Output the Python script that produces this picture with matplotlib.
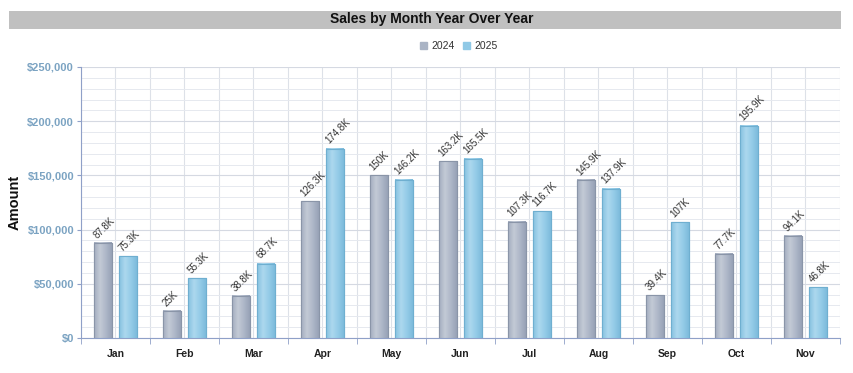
import matplotlib
matplotlib.use("Agg")
import matplotlib.pyplot as plt
import numpy as np
from matplotlib.patches import Rectangle
from matplotlib.colors import LinearSegmentedColormap
from matplotlib.ticker import MultipleLocator, FuncFormatter

months = ["Jan", "Feb", "Mar", "Apr", "May", "Jun", "Jul", "Aug", "Sep", "Oct", "Nov"]
sales_2024 = [87800, 25000, 38800, 126300, 150000, 163200, 107300, 145900, 39400, 77700, 94100]
sales_2025 = [75300, 55300, 68700, 174800, 146200, 165500, 116700, 137900, 107000, 195900, 46800]
labels_2024 = ["87.8K", "25K", "38.8K", "126.3K", "150K", "163.2K", "107.3K", "145.9K", "39.4K", "77.7K", "94.1K"]
labels_2025 = ["75.3K", "55.3K", "68.7K", "174.8K", "146.2K", "165.5K", "116.7K", "137.9K", "107K", "195.9K", "46.8K"]
series_names = ["2024", "2025"]

plt.rcParams['font.family'] = ['Liberation Sans', 'DejaVu Sans']

fig = plt.figure(figsize=(8.54, 3.73), dpi=100)
ax = fig.add_axes([81/854, 35/373, 759/854, 271/373])

x = np.arange(len(months))
w = 0.26
off = 0.18
c24 = "#AAB4C5"
c25 = "#90C9E6"
e24 = "#8A95A8"
e25 = "#6FAFD0"

b1 = ax.bar(x - off, sales_2024, w, color=c24, edgecolor=e24, linewidth=0.8, zorder=3, label=series_names[0])
b2 = ax.bar(x + off, sales_2025, w, color=c25, edgecolor=e25, linewidth=0.8, zorder=3, label=series_names[1])

cm24 = LinearSegmentedColormap.from_list("g24", ["#A3ADBF", "#C3CAD6", "#AEB7C8", "#97A2B6"])
cm25 = LinearSegmentedColormap.from_list("g25", ["#86C1E0", "#ACD8EE", "#95CCE8", "#7DBBDC"])
grad = np.linspace(0, 1, 64).reshape(1, -1)
for bars, cm in ((b1, cm24), (b2, cm25)):
    for p in bars:
        x0, y0 = p.get_x(), p.get_y()
        ax.imshow(grad, cmap=cm, aspect="auto", extent=(x0, x0 + p.get_width(), y0, y0 + p.get_height()),
                  zorder=3.5, interpolation="bilinear")
        r = Rectangle((x0, y0), p.get_width(), p.get_height(), fill=False, edgecolor=p.get_edgecolor(),
                      linewidth=0.8, zorder=4)
        ax.add_patch(r)

for bars, labs in ((b1, labels_2024), (b2, labels_2025)):
    for p, lab in zip(bars, labs):
        ax.annotate(lab, (p.get_x() + p.get_width() / 2, p.get_height()), xytext=(-3, 2),
                    textcoords="offset points", rotation=45, ha="left", va="bottom",
                    fontsize=7, color="#333333", zorder=5, rotation_mode="anchor")

ax.set_xlim(-0.5, len(months) - 0.5)
ax.set_ylim(0, 250000)
ax.set_xticks(x)
ax.set_xticklabels(months, fontsize=7.5, fontweight="bold", color="#222222")
ax.tick_params(axis="x", length=0, pad=8)
ax.set_xticks(np.arange(-0.5, len(months), 1.0), minor=True)
ax.tick_params(axis="x", which="minor", length=4, color="#8FA0C8", direction="out")
ax.yaxis.set_major_locator(MultipleLocator(50000))
ax.yaxis.set_minor_locator(MultipleLocator(10000))
ax.yaxis.set_major_formatter(FuncFormatter(lambda v, p: "${:,.0f}".format(v)))
ax.tick_params(axis="y", labelsize=8, labelcolor="#7BA3C2", length=3, color="#8FA0C8", pad=2)
for t in ax.get_yticklabels():
    t.set_fontweight("bold")
ax.tick_params(axis="y", which="minor", length=0)

ax.grid(True, which="major", axis="y", color="#D5D9E2", linewidth=0.8, zorder=0)
ax.grid(True, which="minor", axis="y", color="#E6E9EF", linewidth=0.7, zorder=0)
for xv in np.arange(-0.5, len(months), 0.5):
    ax.axvline(xv, color="#DDE1E8", linewidth=0.8, zorder=0)
ax.set_axisbelow(True)

for s in ("top", "right"):
    ax.spines[s].set_visible(False)
ax.spines["left"].set_color("#8FA0C8")
ax.spines["bottom"].set_color("#8FA0C8")

fig.text(15/854, 1 - 202.5/373, "Amount", rotation=90, ha="center", va="center",
         fontsize=10.5, fontweight="bold", color="#111111")

# title bar
fig.patches.append(Rectangle((9/854, 1 - 29/373), 832/854, 18/373, transform=fig.transFigure,
                             facecolor="#C0C0C0", edgecolor="none", zorder=0))
fig.text(432/854, 1 - 19.5/373, "Sales by Month Year Over Year", ha="center", va="center",
         fontsize=10, fontweight="bold", color="#111111")

handles = [Rectangle((0, 0), 1, 1, color=c24), Rectangle((0, 0), 1, 1, color=c25)]
fig.legend(handles, series_names, loc="center", bbox_to_anchor=(459/854, 1 - 46/373), ncol=2,
           frameon=False, fontsize=7.5, handlelength=0.7, handleheight=0.7, handletextpad=0.4,
           columnspacing=0.8, labelcolor="#333333")

fig.savefig("out.png", dpi=100)
